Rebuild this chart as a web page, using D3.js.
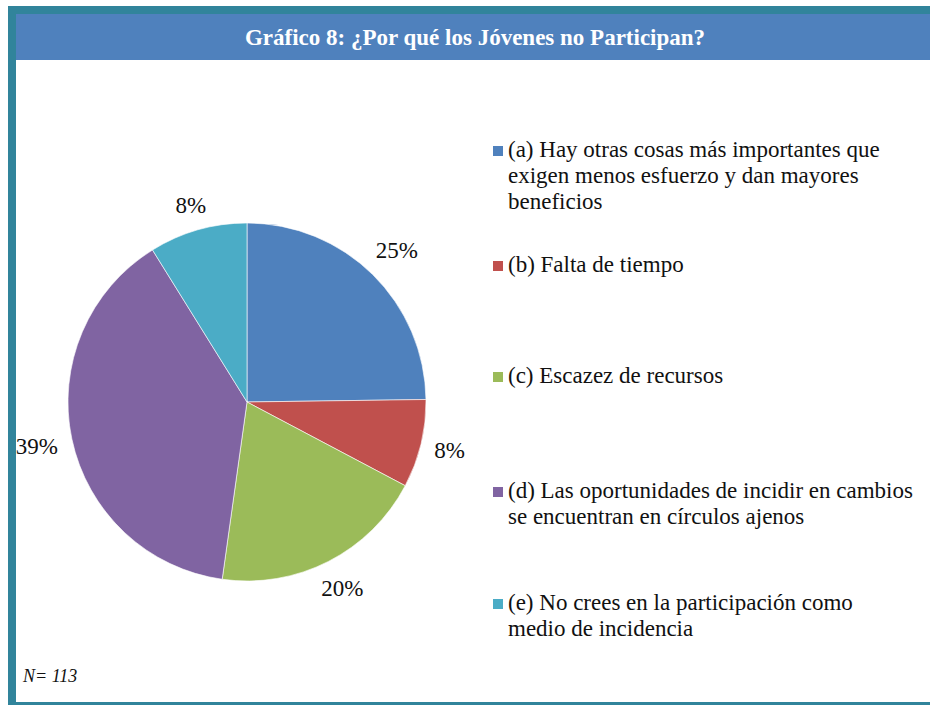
<html>
<head>
  <meta charset="utf-8">
  <title>grafico 8</title>
  <script src="https://d3js.org/d3.v7.min.js"></script>
  <style>
    body { margin: 0; background: #fff; }
  </style>
</head>
<body>
<script>
// data (N = 113)
var categories = ["a", "b", "c", "d", "e"];
var counts = [28, 9, 22, 44, 10];
var pctLabels = ["25%", "8%", "20%", "39%", "8%"];
var legendLines = [
  ["(a) Hay otras cosas más importantes que", "exigen menos esfuerzo y dan mayores", "beneficios"],
  ["(b) Falta de tiempo"],
  ["(c) Escazez de recursos"],
  ["(d) Las oportunidades de incidir en cambios", "se encuentran en círculos ajenos"],
  ["(e) No crees en la participación como", "medio de incidencia"]
];
var colors = ["#4F81BD", "#C0504D", "#9BBB59", "#8064A2", "#4BACC6"];

var width = 930, height = 705;
var cx = 247, cy = 402, radius = 179;
var serif = "'Liberation Serif', 'Times New Roman', Tinos, serif";

var svg = d3.select("body").append("svg")
  .attr("width", width).attr("height", height)
  .style("font-family", serif);

// frame + title bar
svg.append("rect").attr("x", 8).attr("y", 6).attr("width", width - 8).attr("height", 8).attr("fill", "#31849B");
svg.append("rect").attr("x", 8).attr("y", 6).attr("width", 8).attr("height", height - 6).attr("fill", "#31849B");
svg.append("rect").attr("x", 8).attr("y", 702).attr("width", width - 8).attr("height", 3).attr("fill", "#31849B");
svg.append("rect").attr("x", 16).attr("y", 14).attr("width", width - 16).attr("height", 46).attr("fill", "#4F81BD");

svg.append("text")
  .attr("x", 475).attr("y", 45)
  .attr("text-anchor", "middle")
  .attr("fill", "#fff")
  .style("font-family", serif)
  .style("font-size", "23px")
  .style("font-weight", "bold")
  .text("Gráfico 8: ¿Por qué los Jóvenes no Participan?");

//pie
var pie = d3.pie().sort(null).value(function(d){ return d; });
var arc = d3.arc().innerRadius(0).outerRadius(radius);
var arcs = pie(counts);

var g = svg.append("g").attr("transform", "translate(" + cx + "," + cy + ")");

g.selectAll("path")
  .data(arcs)
  .enter().append("path")
  .attr("d", arc)
  .attr("fill", function(d, i){ return colors[i]; })
  .attr("stroke", "#fff")
  .attr("stroke-opacity", 0.6)
  .attr("stroke-width", 1);

// outside-end labels: box edge sits just outside the circle
var fs = 23;
g.selectAll(".lbl")
  .data(arcs)
  .enter().append("text")
  .attr("class", "lbl")
  .attr("text-anchor", "middle")
  .attr("dy", "0.33em")
  .style("font-family", serif)
  .style("font-size", fs + "px")
  .attr("fill", "#111")
  .text(function(d, i){ return pctLabels[i]; })
  .attr("transform", function(d, i){
    var a = (d.startAngle + d.endAngle) / 2;
    var s = Math.sin(a), c = Math.cos(a);
    var w = pctLabels[i].length * 0.6 * fs, h = 16;
    var r = radius + 14 + Math.abs(s) * w / 2 + Math.abs(c) * h / 2;
    return "translate(" + (s * r) + "," + (-c * r) + ")";
  });

// legend
var legendY = [157, 272, 383, 498, 610];
var lg = svg.selectAll(".leg")
  .data(categories)
  .enter().append("g")
  .attr("class", "leg")
  .attr("transform", function(d, i){ return "translate(493," + legendY[i] + ")"; });

lg.append("rect")
  .attr("x", 0).attr("y", -11)
  .attr("width", 10).attr("height", 10)
  .attr("fill", function(d, i){ return colors[i]; });

lg.append("text")
  .attr("x", 15)
  .style("font-family", serif)
  .style("font-size", fs + "px")
  .attr("fill", "#111")
  .selectAll("tspan")
  .data(function(d, i){ return legendLines[i]; })
  .enter().append("tspan")
  .attr("x", 15)
  .attr("y", function(d, j){ return j * 26; })
  .text(function(d){ return d; });

svg.append("text")
  .attr("x", 23).attr("y", 682)
  .style("font-family", serif)
  .style("font-size", "18px")
  .style("font-style", "italic")
  .attr("fill", "#111")
  .text("N= 113");
</script>
</body>
</html>
